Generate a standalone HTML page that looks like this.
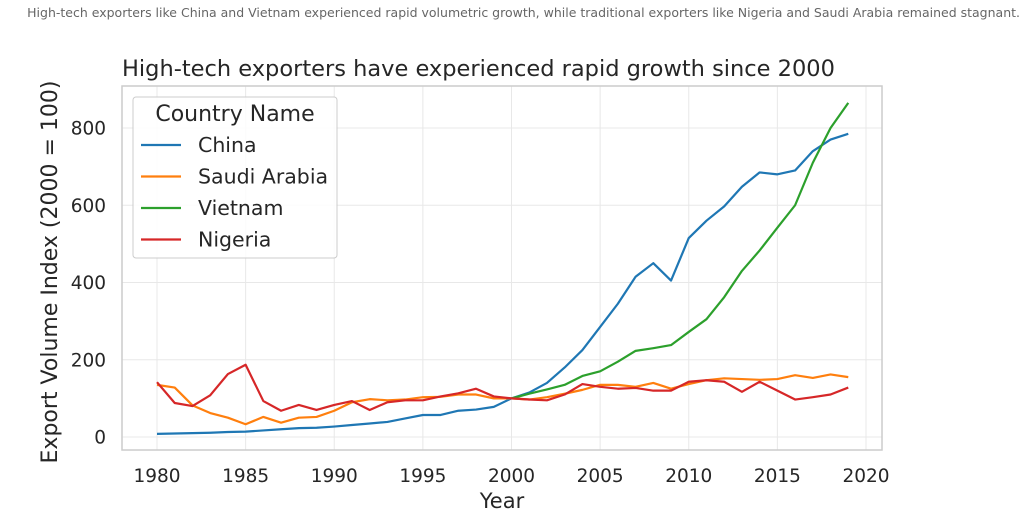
<!DOCTYPE html>
<html><head><meta charset="utf-8"><style>
body{margin:0;background:#fff;font-family:"DejaVu Sans","Liberation Sans",sans-serif;}
svg text{font-family:"DejaVu Sans","Liberation Sans",sans-serif;}
</style></head><body>
<svg id="c" width="1032" height="521"></svg>
<script>
const years=[];for(let y=1980;y<=2019;y++)years.push(y);
const china=[8,9,10,11,13,14,17,20,23,24,27,31,35,39,48,57,57,68,71,78,100,115,140,180,225,285,345,415,450,405,515,560,597,648,685,680,690,740,770,785];
const saudi=[135,128,82,62,50,33,52,37,50,52,68,90,98,95,97,103,104,110,110,100,100,97,103,112,122,135,135,130,140,125,137,147,152,150,148,150,160,153,162,155];
const vietnamYears=[2000,2001,2002,2003,2004,2005,2006,2007,2008,2009,2010,2011,2012,2013,2014,2015,2016,2017,2018,2019];
const vietnam=[100,112,123,135,158,170,195,223,230,238,272,305,362,430,483,542,600,710,800,865];
const nigeria=[142,88,80,108,163,187,93,68,83,70,83,93,70,90,95,95,105,113,125,105,100,97,95,110,137,130,125,127,120,120,143,147,143,117,143,120,97,103,110,128];
const xTicks=[1980,1985,1990,1995,2000,2005,2010,2015,2020];
const yTicks=[0,200,400,600,800];
const X=v=>157+(v-1980)*(866-157)/40;
const Y=v=>437-v*(437-128)/800;
const NS="http://www.w3.org/2000/svg";
const svg=document.getElementById('c');
function mk(t,a,p){const e=document.createElementNS(NS,t);for(const k in a)e.setAttribute(k,a[k]);(p||svg).appendChild(e);return e;}
let t=mk('text',{x:1020,y:17,'text-anchor':'end','font-size':12.5,fill:'#666'});t.textContent='High-tech exporters like China and Vietnam experienced rapid volumetric growth, while traditional exporters like Nigeria and Saudi Arabia remained stagnant.';

t=mk('text',{x:122,y:76,'font-size':22.5,fill:'#262626'});t.textContent='High-tech exporters have experienced rapid growth since 2000';

xTicks.forEach(v=>{const l=mk('line',{x1:X(v),x2:X(v),y1:86,y2:450,stroke:'#e8e8e8','stroke-width':1});

const tx=mk('text',{x:X(v),y:482,'text-anchor':'middle','font-size':18.5,fill:'#262626'});tx.textContent=v;
});
yTicks.forEach(v=>{const l=mk('line',{x1:122,x2:882,y1:Y(v),y2:Y(v),stroke:'#e8e8e8','stroke-width':1});

const tx=mk('text',{x:106,y:Y(v)+6.5,'text-anchor':'end','font-size':18.5,fill:'#262626'});tx.textContent=v;
});
const fr=mk('rect',{x:122,y:86,width:760,height:364,fill:'none',stroke:'#ccc','stroke-width':1.5});

t=mk('text',{x:502,y:508,'text-anchor':'middle','font-size':21,fill:'#262626'});t.textContent='Year';

t=mk('text',{x:0,y:0,'text-anchor':'middle','font-size':22,fill:'#262626',transform:'translate(57,272) rotate(-90)'});t.textContent='Export Volume Index (2000 = 100)';

function line(xs,vs,c,n){const p=mk('polyline',{points:xs.map((x,i)=>X(x)+','+Y(vs[i])).join(' '),fill:'none',stroke:c,'stroke-width':2.2,'stroke-linejoin':'round'});
}
line(years,china,'#1f77b4','china-line');
line(years,saudi,'#ff7f0e','saudi-arabia-line');
line(vietnamYears,vietnam,'#2ca02c','vietnam-line');
line(years,nigeria,'#d62728','nigeria-line');
const lg=mk('g',{});
mk('rect',{x:133,y:97,width:204,height:161,rx:3,fill:'#fff','fill-opacity':0.85,stroke:'#ccc'},lg);
t=mk('text',{x:235,y:121,'text-anchor':'middle','font-size':22,fill:'#262626'},lg);t.textContent='Country Name';
[['China','#1f77b4'],['Saudi Arabia','#ff7f0e'],['Vietnam','#2ca02c'],['Nigeria','#d62728']].forEach((d,i)=>{
const y=145+i*31.5;const g=mk('g',{},lg);
mk('line',{x1:141,x2:181,y1:y,y2:y,stroke:d[1],'stroke-width':2.2},g);
const tt=mk('text',{x:198,y:y+7,'font-size':20.5,fill:'#262626'},g);tt.textContent=d[0];});
</script></body></html>
